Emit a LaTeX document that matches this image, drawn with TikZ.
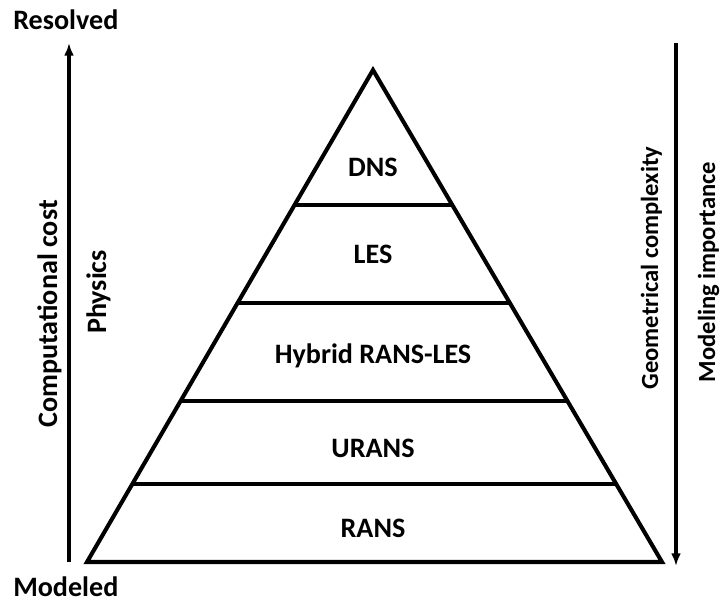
\documentclass[tikz,border=0pt]{standalone}
\usepackage{fontspec}
\setmainfont{Carlito}
\usetikzlibrary{arrows.meta, calc}

\begin{document}
\begin{tikzpicture}[
    x=0.025cm, y=-0.025cm,
    >={Latex[length=9pt,width=7pt]},
    every node/.style={font=\bfseries\fontsize{20}{24}\selectfont, inner sep=0pt},
    side/.style={rotate=90, anchor=base, font=\bfseries\fontsize{17.5}{21}\selectfont},
    tier/.style={line width=2.9pt},
    axis/.style={->, line width=2.2pt}
]
\useasboundingbox (0,0) rectangle (721,602);

% Pyramid
\coordinate (apex) at (373,70);
\coordinate (bl) at (87,562);
\coordinate (br) at (662,562);
\draw[tier, line join=miter] (apex) -- (bl) -- (br) -- cycle;

% Tier boundaries
\foreach \t in {0.2744, 0.4736, 0.6728, 0.8415}
    \draw[tier] ($(apex)!\t!(bl)$) -- ($(apex)!\t!(br)$);

% Tier labels
\node[anchor=base] (dns) at (373,177) {DNS};
\node[anchor=base] (les) at (373,264) {LES};
\node[anchor=base] (hyb) at (373,363) {Hybrid RANS-LES};
\node[anchor=base] (urans) at (373,457) {URANS};
\node[anchor=base] (rans) at (373,537) {RANS};

% Left axis
\node[anchor=base west] (resolved) at (13,30) {Resolved};
\node[anchor=base west] (modeled) at (13,596) {Modeled};
\coordinate (costlo) at (69,562);
\coordinate (costhi) at (69,43);
\draw[axis] (costlo) -- (costhi);
\node[rotate=90, anchor=base] (cost) at (57,314) {Computational cost};
\node[rotate=90, anchor=base] (physics) at (106,292) {Physics};

% Right axis
\coordinate (modhi) at (676,43);
\coordinate (modlo) at (676,566);
\draw[axis] (modhi) -- (modlo);
\node[side] (geom) at (658,268) {Geometrical complexity};
\node[side] (modimp) at (715,272) {Modeling importance};

\end{tikzpicture}
\end{document}
